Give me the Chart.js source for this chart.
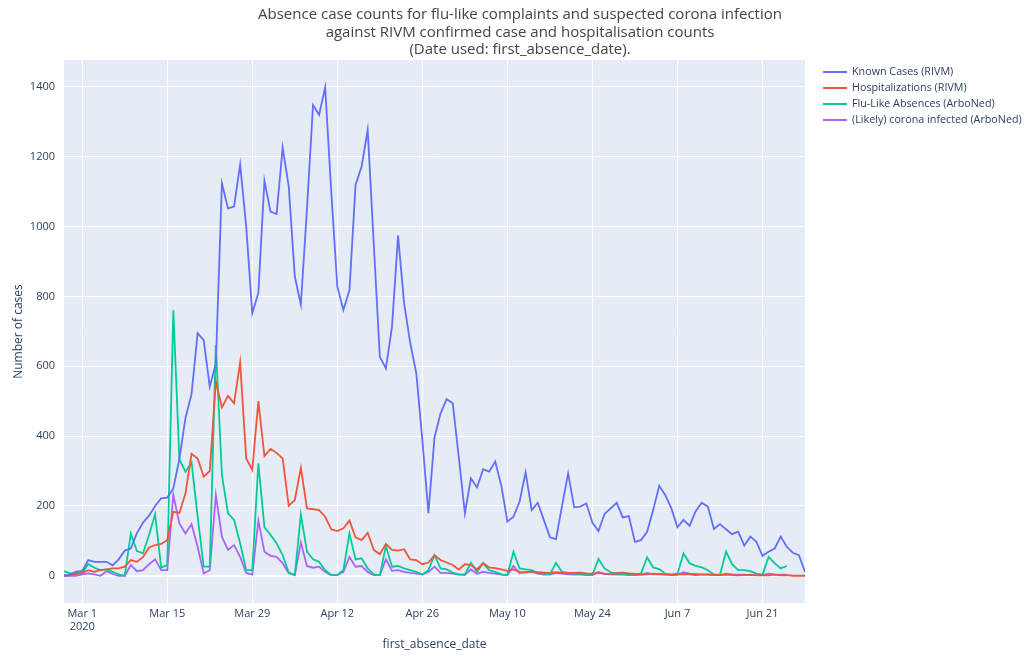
<!DOCTYPE html>
<html>
<head>
<meta charset="utf-8">
<script src="https://cdn.jsdelivr.net/npm/chart.js@4.4.1/dist/chart.umd.min.js"></script>
<style>
  html, body { margin: 0; padding: 0; background: #fff; }
  #wrap { width: 1027px; height: 656px; }
</style>
</head>
<body>
<div id="wrap"><canvas id="chart-lines" width="1027" height="656"></canvas></div>
<script>
// day 0 = 27 Feb 2020, one value per day
const startDate = new Date(2020, 1, 27);

const knownCases = [
  0, 3, 12, 14, 45, 40, 40, 40, 30, 47,
  72, 78, 122, 152, 172, 200, 222, 224, 250, 335,
  452, 520, 695, 675, 541, 608, 1124, 1052, 1057, 1178,
  1000, 752, 810, 1131, 1043, 1036, 1226, 1115, 857, 776,
  1050, 1348, 1320, 1399, 1100, 828, 761, 818, 1119, 1172,
  1277, 950, 627, 594, 713, 974, 780, 667, 580, 389,
  179, 396, 465, 506, 494, 340, 179, 279, 253, 305,
  298, 327, 258, 155, 169, 212, 296, 188, 209, 160,
  110, 105, 200, 293, 196, 198, 207, 152, 128, 177,
  193, 209, 167, 171, 97, 102, 126, 188, 258, 231,
  193, 139, 160, 143, 185, 209, 198, 134, 148, 133,
  119, 126, 86, 112, 97, 57, 69, 78, 112, 83,
  66, 59, 11
];

const hospitalizations = [
  0, 2, 5, 8, 16, 11, 16, 18, 21, 21,
  26, 45, 40, 53, 81, 88, 91, 102, 183, 180,
  236, 349, 336, 284, 300, 556, 482, 515, 494, 611,
  336, 303, 500, 343, 363, 352, 336, 200, 217, 309,
  193, 191, 188, 169, 133, 128, 136, 158, 110, 102,
  123, 74, 62, 91, 74, 72, 76, 47, 45, 33,
  38, 59, 45, 38, 31, 18, 33, 31, 18, 36,
  24, 22, 18, 14, 18, 11, 10, 12, 10, 9,
  8, 10, 9, 8, 8, 9, 7, 6, 8, 6,
  5, 8, 9, 7, 5, 3, 4, 6, 5, 4,
  3, 3, 5, 4, 2, 3, 4, 3, 2, 3,
  2, 1, 2, 3, 1, 2, 1, 3, 1, 2,
  0, 0, 0
];

const fluLike = [
  13, 7, 8, 7, 34, 23, 16, 18, 11, 4,
  0, 121, 71, 64, 117, 176, 23, 31, 760, 333,
  298, 324, 170, 26, 26, 661, 288, 179, 160, 93,
  16, 16, 322, 139, 117, 93, 59, 9, 2, 176,
  69, 47, 40, 16, 2, 2, 16, 121, 47, 50,
  21, 4, 2, 85, 26, 28, 21, 16, 11, 4,
  16, 59, 21, 18, 9, 4, 3, 37, 11, 36,
  16, 11, 4, 2, 69, 21, 18, 16, 8, 6,
  4, 37, 11, 8, 6, 6, 4, 3, 48, 21,
  10, 6, 5, 4, 3, 6, 53, 24, 19, 6,
  3, 6, 64, 36, 28, 24, 16, 4, 3, 69,
  33, 16, 16, 13, 6, 3, 54, 36, 21, 28,
  null, null, null
];

const coronaInfected = [
  0, 0, 0, 4, 7, 4, 0, 13, 5, 0,
  0, 31, 13, 16, 33, 47, 16, 16, 232, 150,
  121, 148, 83, 7, 16, 231, 112, 74, 88, 54,
  8, 3, 158, 69, 57, 54, 36, 7, 2, 95,
  28, 23, 26, 11, 2, 2, 11, 54, 26, 28,
  11, 2, 2, 47, 14, 16, 11, 8, 6, 4,
  11, 26, 8, 8, 6, 3, 3, 18, 6, 11,
  8, 6, 3, 2, 28, 8, 10, 11, 6, 3,
  3, 8, 6, 4, 3, 3, 2, 2, 11, 5,
  4, 3, 3, 2, 2, 3, 8, 4, 4, 3,
  2, 3, 10, 6, 5, 4, 3, 2, 2, 6,
  4, 3, 3, 2, 2, 2, 6, 4, 3, 3,
  null, null, null
];

const seriesNames = [
  'Known Cases (RIVM)',
  'Hospitalizations (RIVM)',
  'Flu-Like Absences (ArboNed)',
  '(Likely) corona infected (ArboNed)'
];
const seriesColors = ['#636efa', '#ef553b', '#00cc96', '#ab63fa'];

const xTickDays = [3, 17, 31, 45, 59, 73, 87, 101, 115];
const xTickLabels = [['Mar 1', '2020'], 'Mar 15', 'Mar 29', 'Apr 12', 'Apr 26', 'May 10', 'May 24', 'Jun 7', 'Jun 21'];
const yTickValues = [0, 200, 400, 600, 800, 1000, 1200, 1400];

const titleLines = [
  'Absence case counts for flu-like complaints and suspected corona infection',
  'against RIVM confirmed case and hospitalisation counts',
  '(Date used: first_absence_date).'
];

const dayIndex = knownCases.map((v, i) => i);
const dayNames = dayIndex.map(function (i) {
  const d = new Date(startDate);
  d.setDate(d.getDate() + i);
  return d.toLocaleDateString('en-US', { month: 'short', day: 'numeric', year: 'numeric' });
});

const textColor = '#2a3f5f';
const fontFamily = '"Open Sans", "DejaVu Sans", sans-serif';

// plot background + paper
const backdrop = {
  id: 'backdrop',
  beforeDraw(chart) {
    const { ctx, chartArea: a } = chart;
    ctx.save();
    ctx.fillStyle = '#ffffff';
    ctx.fillRect(0, 0, chart.width, chart.height);
    ctx.fillStyle = '#e5ecf6';
    ctx.fillRect(a.left, a.top, a.right - a.left, a.bottom - a.top);
    ctx.restore();
  }
};

// plotly-like title and legend
const annotations = {
  id: 'annotations',
  afterDraw(chart) {
    const ctx = chart.ctx;
    ctx.save();
    ctx.fillStyle = '#444';
    ctx.font = '15px ' + fontFamily;
    ctx.textAlign = 'center';
    ctx.textBaseline = 'middle';
    titleLines.forEach(function (t, i) {
      ctx.fillText(t, 520, 15 + i * 17.5);
    });

    ctx.font = '10.75px ' + fontFamily;
    ctx.textAlign = 'left';
    seriesNames.forEach(function (name, i) {
      const y = 72 + i * 16;
      ctx.strokeStyle = seriesColors[i];
      ctx.lineWidth = 2;
      ctx.beginPath();
      ctx.moveTo(823, y);
      ctx.lineTo(847, y);
      ctx.stroke();
      ctx.fillStyle = textColor;
      ctx.fillText(name, 852, y);
    });
    ctx.restore();
  }
};

const ctx = document.getElementById('chart-lines');

new Chart(ctx, {
  type: 'line',
  data: {
    labels: dayIndex,
    datasets: [knownCases, hospitalizations, fluLike, coronaInfected].map(function (vals, i) {
      return {
        label: seriesNames[i],
        data: vals,
        borderColor: seriesColors[i],
        backgroundColor: seriesColors[i],
        borderWidth: 1.8,
        pointRadius: 0,
        tension: 0,
        spanGaps: false
      };
    })
  },
  options: {
    responsive: false,
    animation: false,
    devicePixelRatio: 1,
    layout: { padding: { top: 60, right: 222, left: 0, bottom: 0 } },
    plugins: {
      legend: false,
      title: { display: false },
      tooltip: {
        callbacks: { title: (items) => dayNames[items[0].dataIndex] }
      }
    },
    scales: {
      x: {
        type: 'linear',
        min: 0,
        max: 122,
        afterBuildTicks: (scale) => { scale.ticks = xTickDays.map(v => ({ value: v })); },
        afterFit: (scale) => { scale.height = 53; },
        grid: { color: '#ffffff', lineWidth: 1, drawTicks: false },
        border: { display: false },
        ticks: {
          padding: 4,
          color: textColor,
          font: { family: fontFamily, size: 11 },
          maxRotation: 0,
          autoSkip: false,
          callback: (v, i) => xTickLabels[i]
        },
        title: {
          display: true,
          text: 'first_absence_date',
          color: textColor,
          font: { family: fontFamily, size: 12 },
          padding: { top: 0, bottom: 4 }
        }
      },
      y: {
        min: -78,
        max: 1477,
        afterBuildTicks: (scale) => { scale.ticks = yTickValues.map(v => ({ value: v })); },
        afterFit: (scale) => { scale.width = 64; },
        grid: {
          color: '#ffffff',
          lineWidth: (c) => (c.tick && c.tick.value === 0 ? 2 : 1),
          drawTicks: false
        },
        border: { display: false },
        ticks: {
          padding: 9,
          color: textColor,
          font: { family: fontFamily, size: 11 },
          callback: (v) => String(v)
        },
        title: {
          display: true,
          text: 'Number of cases',
          color: textColor,
          font: { family: fontFamily, size: 12 },
          padding: { top: 11, bottom: 0 }
        }
      }
    }
  },
  plugins: [backdrop, annotations]
});
</script>
</body>
</html>
